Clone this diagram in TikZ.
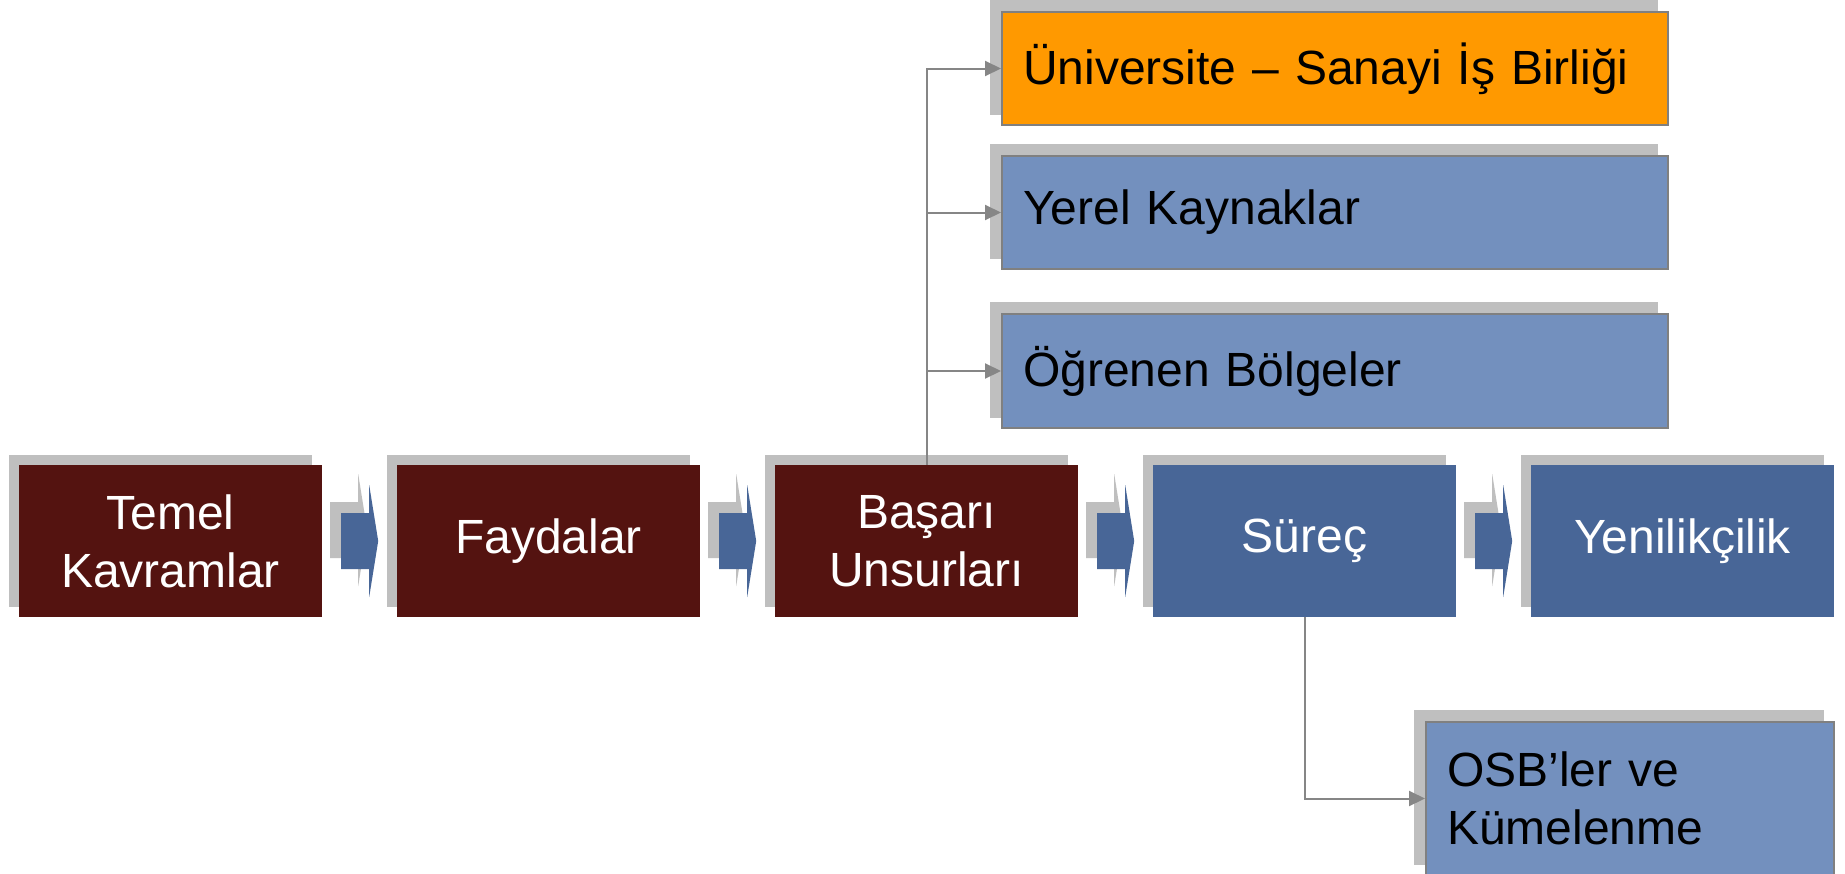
\documentclass[tikz,border=0pt]{standalone}
\usepackage{fontspec}
\setmainfont{Liberation Sans}
\usetikzlibrary{backgrounds,arrows.meta,calc}
\definecolor{boxred}{RGB}{84,19,16}
\definecolor{boxblue}{RGB}{72,102,151}
\definecolor{lightblue}{RGB}{115,144,190}
\definecolor{boxorange}{RGB}{255,153,0}
\definecolor{shadowgray}{RGB}{191,191,191}
\definecolor{bordergray}{RGB}{128,128,128}
\definecolor{conngray}{RGB}{134,134,134}
\newcommand\mainshadow[1]{\fill[shadowgray] ($(#1.north west)+(-10,-10)$) rectangle ($(#1.south east)+(-10,-10)$);}
\newcommand\sideshadow[1]{\fill[shadowgray] ($(#1.north west)+(-11,-11)$) rectangle ($(#1.south east)+(-11,-11)$);}
\begin{document}
\begin{tikzpicture}[x=1pt,y=-1pt,
  mainbox/.style={draw=none, inner sep=0pt, minimum width=303pt, minimum height=152pt,
    align=center, text=white, font=\fontsize{48}{58}\selectfont},
  redbox/.style={mainbox, fill=boxred},
  bluebox/.style={mainbox, fill=boxblue},
  topbox/.style={draw=bordergray, line width=2pt, fill=lightblue, inner xsep=21pt, inner ysep=0pt,
    text width=624pt, minimum height=113pt, align=left, text=black,
    font=\fontsize{48}{58}\selectfont},
  conn/.style={draw=conngray, line width=2pt, -{Triangle[length=16pt,width=15pt]}},
  flowarrow/.pic={
    \fill[shadowgray] (8,-39) -- (36,-39) -- (36,-67) -- (45,-11) -- (36,45) -- (36,17) -- (8,17) -- cycle;
    \fill[boxblue] (19,-28) -- (47,-28) -- (47,-56) -- (56,0) -- (47,56) -- (47,28) -- (19,28) -- cycle;
  }
]
\useasboundingbox (0,0) rectangle (1845,873);

% main row
\node[redbox] (temel) at (170.5,541) {Temel\\Kavramlar};
\node[redbox] (fayda) at (548.5,541) {Faydalar};
\node[redbox] (basari) at (926.5,541) {Başarı\\Unsurları};
\node[bluebox] (surec) at (1304.5,541) {Süreç};
\node[bluebox] (yenil) at (1682.5,541) {Yenilikçilik};

% branch boxes
\node[topbox, fill=boxorange] (univ) at (1335,68.5) {Üniversite – Sanayi İş Birliği};
\node[topbox] (yerel) at (1335,212.5) {Yerel Kaynaklar};
\node[topbox, minimum height=114pt] (ogren) at (1335,371) {Öğrenen Bölgeler};
\node[topbox, text width=366pt, minimum height=153pt] (osb) at (1630,798.5) {OSB’ler ve\\Kümelenme};

\begin{scope}[on background layer]
  \fill[white] (0,0) rectangle (1845,873);
  \mainshadow{temel}
  \mainshadow{fayda}
  \mainshadow{basari}
  \mainshadow{surec}
  \mainshadow{yenil}
  \sideshadow{univ}
  \sideshadow{yerel}
  \sideshadow{ogren}
  \sideshadow{osb}
\end{scope}

% flow arrows
\pic at (temel.east) {flowarrow};
\pic at (fayda.east) {flowarrow};
\pic at (basari.east) {flowarrow};
\pic at (surec.east) {flowarrow};

% connectors
\draw[conn] (basari.north) |- (univ.west);
\draw[conn] (basari.north) |- (yerel.west);
\draw[conn] (basari.north) |- (ogren.west);
\draw[conn] (surec.south) |- (osb.west);
\end{tikzpicture}
\end{document}
